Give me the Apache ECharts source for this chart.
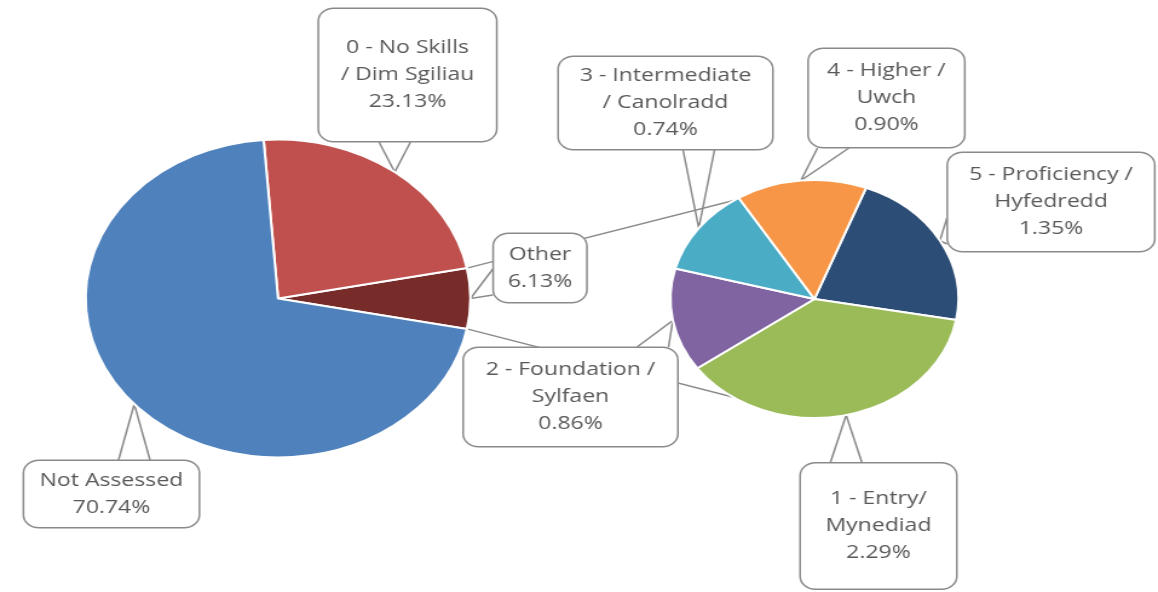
<!DOCTYPE html>
<html><head><meta charset="utf-8">
<script src="https://cdn.jsdelivr.net/npm/echarts@6/dist/echarts.min.js"></script>
<style>
html,body{margin:0;padding:0;background:#fff;overflow:hidden;}
#wrap{width:1158px;height:592px;overflow:hidden;position:relative;}
#chart{width:957px;height:592px;transform:scaleX(1.21);transform-origin:0 0;}
</style></head><body><div id="wrap"><div id="chart"></div></div>
<script>
// ---- data ----
const primaryNames = ['Other', '0 - No Skills\n/ Dim Sgiliau', 'Not Assessed'];
const primaryValues = [6.13, 23.13, 70.74];
const secondaryNames = ['5 - Proficiency /\nHyfedredd', '1 - Entry/\nMynediad', '2 - Foundation /\nSylfaen', '3 - Intermediate\n/ Canolradd', '4 - Higher /\nUwch'];
const secondaryValues = [1.35, 2.29, 0.86, 0.74, 0.90];
const primaryColors = ['#772C2A', '#C0504D', '#4F81BD'];
const secondaryColors = ['#2C4D75', '#9BBB59', '#8064A2', '#4BACC6', '#F79646'];

// ---- layout (unscaled chart px; the canvas is stretched horizontally) ----
const L = {cx: 229.8, cy: 298.5, r: 159};
const R = {cx: 673.1, cy: 299, r: 119};
const LH = 27;
// label boxes: [centerX, centerY, width, height, textShift]
const primaryBoxes = [[446.3, 268, 78, 70, 2], [336.8, 75, 148, 134, 3], [92.1, 494, 146, 68, 3]];
const secondaryBoxes = [[868.6, 202, 172, 100, 1], [726, 526, 130, 127, 4], [471.5, 397, 178, 100, 2], [550, 103, 178, 94, 1], [732.6, 98, 130, 100, 3]];

const FONT = "'Open Sans', 'Liberation Sans', sans-serif";
const GRAY = '#595959';
const BORDER = '#8a8a8a';

function buildData(names, values, colors, boxes) {
  return names.map((n, i) => {
    const lines = n.split('\n').length + 1;
    const b = boxes[i];
    const pv = Math.max(0, (b[3] - lines * LH) / 2 - 1);
    const s = Math.min(b[4], pv);
    return {
      name: n, value: values[i],
      itemStyle: {color: colors[i]},
      label: {width: b[2] - 2, padding: [pv + s, 0, pv - s, 0]}
    };
  });
}

function clamp(v, a, b) { return Math.max(a, Math.min(b, v)); }

function makeLayout(boxes) {
  return function (p) {
    const b = boxes[p.dataIndex];
    const res = {x: b[0], y: b[1], align: 'center', verticalAlign: 'middle'};
    const pts = p.labelLinePoints;
    if (pts && pts.length) {
      const tip = pts[0];
      const l = b[0] - b[2] / 2, r = b[0] + b[2] / 2, t = b[1] - b[3] / 2, bt = b[1] + b[3] / 2;
      const dxOut = tip[0] < l ? l - tip[0] : (tip[0] > r ? tip[0] - r : 0);
      const dyOut = tip[1] < t ? t - tip[1] : (tip[1] > bt ? tip[1] - bt : 0);
      const hw = 13;
      let A, B;
      if (dyOut >= dxOut) {
        const ey = tip[1] < t ? t : bt;
        const ex = clamp(tip[0], l + hw + 8, r - hw - 8);
        A = [ex - hw, ey]; B = [ex + hw, ey];
      } else {
        const ex = tip[0] < l ? l : r;
        const ey = clamp(tip[1], t + hw + 8, bt - hw - 8);
        A = [ex, ey - hw]; B = [ex, ey + hw];
      }
      res.labelLinePoints = [A, tip, B];
    }
    return res;
  };
}

const labelCommon = {
  show: true,
  position: 'outside',
  formatter: p => p.name + '\n' + p.value.toFixed(2) + '%',
  color: GRAY,
  fontFamily: FONT,
  fontSize: 19,
  lineHeight: LH,
  align: 'center',
  overflow: 'none',
  backgroundColor: '#ffffff',
  borderColor: BORDER,
  borderWidth: 1.5,
  borderRadius: 12
};
const labelLineCommon = {show: true, length: 4, length2: 4, smooth: false, lineStyle: {color: BORDER, width: 1.5}};

const sumP = primaryValues.reduce((a, b) => a + b, 0);
const half = primaryValues[0] / sumP * Math.PI; // half angle of "Other" slice
const P1 = [L.cx + L.r * Math.cos(half), L.cy - L.r * Math.sin(half)];
const P2 = [L.cx + L.r * Math.cos(half), L.cy + L.r * Math.sin(half)];
const Q1 = [R.cx, R.cy - R.r];
const Q2 = [R.cx, R.cy + R.r];

const chart = echarts.init(document.getElementById('chart'));
chart.setOption({
  backgroundColor: '#ffffff',
  animation: false,
  graphic: {
    elements: [
      {type: 'polyline', z: 1, shape: {points: [P1, Q1]}, style: {stroke: BORDER, lineWidth: 1.4, fill: null}},
      {type: 'polyline', z: 1, shape: {points: [P2, Q2]}, style: {stroke: BORDER, lineWidth: 1.4, fill: null}}
    ]
  },
  series: [
    {
      type: 'pie', z: 3,
      center: [L.cx, L.cy], radius: L.r,
      clockwise: false, startAngle: -primaryValues[0] / sumP * 180,
      avoidLabelOverlap: false,
      itemStyle: {borderColor: '#ffffff', borderWidth: 2},
      label: labelCommon,
      labelLine: labelLineCommon,
      labelLayout: makeLayout(primaryBoxes),
      emphasis: {disabled: true},
      data: buildData(primaryNames, primaryValues, primaryColors, primaryBoxes)
    },
    {
      type: 'pie', z: 3,
      center: [R.cx, R.cy], radius: R.r,
      clockwise: true, startAngle: 69,
      avoidLabelOverlap: false,
      itemStyle: {borderColor: '#ffffff', borderWidth: 2},
      label: labelCommon,
      labelLine: labelLineCommon,
      labelLayout: makeLayout(secondaryBoxes),
      emphasis: {disabled: true},
      data: buildData(secondaryNames, secondaryValues, secondaryColors, secondaryBoxes)
    }
  ]
});
</script></body></html>
